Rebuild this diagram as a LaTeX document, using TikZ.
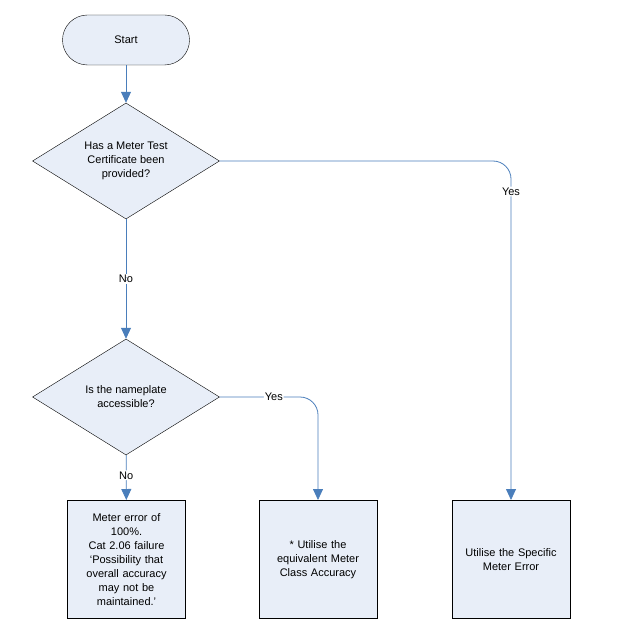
\documentclass[tikz,border=0pt]{standalone}
\usepackage{fontspec}
\setmainfont{Liberation Sans}
\usetikzlibrary{shapes.geometric,arrows.meta}
\definecolor{boxfill}{HTML}{E8EEF8}
\definecolor{flowblue}{HTML}{4A7EBB}
\tikzset{
  every node/.style={font=\fontsize{11}{14}\selectfont},
  term/.style={draw, fill=boxfill, rounded corners=25pt, minimum width=127pt, minimum height=50pt},
  decide/.style={draw, fill=boxfill, diamond, aspect=1.63, minimum width=187pt, minimum height=116pt, inner sep=0pt, align=center},
  action/.style={draw, fill=boxfill, minimum width=118pt, minimum height=118pt, text width=106pt, align=center, anchor=north},
  flow/.style={draw=flowblue, line width=0.8pt, -{Triangle[length=11pt,width=10pt]}, rounded corners=18pt},
  lbl/.style={fill=white, inner sep=1pt}
}
\begin{document}
\begin{tikzpicture}[x=1pt,y=-1pt]
\useasboundingbox (0,0) rectangle (620,644);
\node[term] (start) at (126,40) {Start};
\node[decide] (cert) at (126,161) {Has a Meter Test\\Certificate been\\provided?};
\node[decide] (plate) at (126,397) {Is the nameplate\\accessible?};
\node[action] (fail) at (126.5,500) {Meter error of\\100\%.\\Cat 2.06 failure\\`Possibility that\\overall accuracy\\may not be\\maintained.'};
\node[action] (equiv) at (318,500) {* Utilise the\\equivalent Meter\\Class Accuracy};
\node[action] (specific) at (511,500) {Utilise the Specific\\Meter Error};
\coordinate (c1) at (511,161);
\coordinate (c2) at (318,397);

\draw[flow] (start) -- (cert);
\draw[flow] (cert) -- node[lbl] {No} (plate);
\draw[flow] (plate) -- node[lbl, pos=0.45] {No} (fail);
\draw[flow] (cert.east) -- (c1) -- node[lbl, pos=0.09] {Yes} (specific.north);
\draw[flow] (plate.east) -- node[lbl, pos=0.55] {Yes} (c2) -- (equiv.north);
\end{tikzpicture}
\end{document}
